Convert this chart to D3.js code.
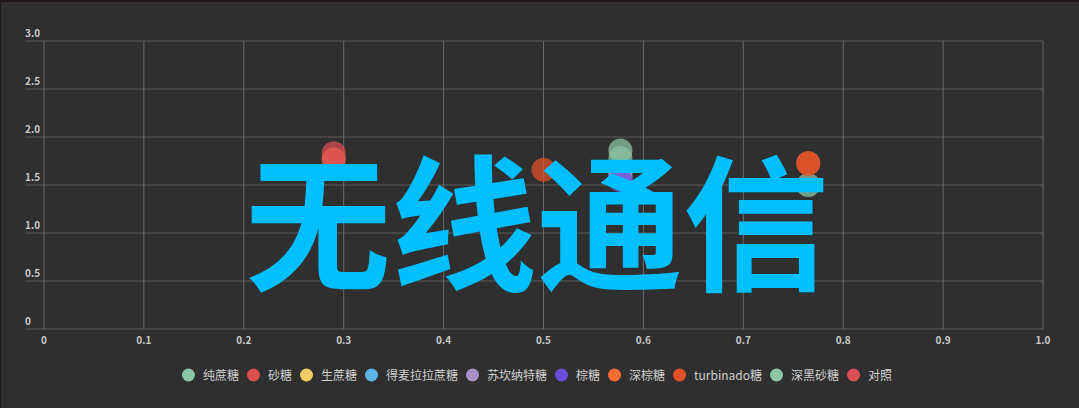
<!DOCTYPE html>
<html>
<head>
<meta charset="utf-8">
<script src="https://cdn.jsdelivr.net/npm/d3@7"></script>
<style>
  html, body { margin: 0; padding: 0; background: #2f2f2f; }
  #chart { width: 1078px; height: 406px; border-top: 2px solid #1f1515; border-left: 1px solid #1f1515; }
  text { font-family: "Noto Sans CJK SC", "Noto Sans", sans-serif; }
</style>
</head>
<body>
<div id="chart"></div>
<script>
// series names and colours (legend order)
var seriesNames = ["纯蔗糖", "砂糖", "生蔗糖", "得麦拉拉蔗糖", "苏坎纳特糖", "棕糖", "深棕糖", "turbinado糖", "深黑砂糖", "对照"];
var seriesColors = ["#8cc7a5", "#d95050", "#f2cd67", "#5bb5e6", "#a890c8", "#6b4fdb", "#ff6b35", "#e34f26", "#8dc6a6", "#d95157"];

// points per series: [x, y]
var pts_chunzhetang = [[0.577, 1.78], [0.765, 1.50]];
var pts_shatang = [[0.29, 1.83]];
var pts_shengzhetang = [[0.577, 1.64]];
var pts_demelara = [[0.577, 1.60]];
var pts_sucanat = [[0.577, 1.58]];
var pts_zongtang = [[0.577, 1.55]];
var pts_shenzongtang = [[0.29, 1.76], [0.765, 1.73]];
var pts_turbinado = [[0.50, 1.66], [0.765, 1.72]];
var pts_shenheishatang = [[0.577, 1.86]];
var pts_duizhao = [[0.29, 1.77]];

var seriesPoints = [pts_chunzhetang, pts_shatang, pts_shengzhetang, pts_demelara, pts_sucanat,
                    pts_zongtang, pts_shenzongtang, pts_turbinado, pts_shenheishatang, pts_duizhao];

var xTicks = [0, 0.1, 0.2, 0.3, 0.4, 0.5, 0.6, 0.7, 0.8, 0.9, 1.0];
var yTicks = [0, 0.5, 1.0, 1.5, 2.0, 2.5, 3.0];
var watermark = "无线通信";

var width = 1078, height = 406;

var svg = d3.select("#chart").append("svg")
    .attr("width", width)
    .attr("height", height);

var x = d3.scaleLinear().domain([0, 1]).range([43, 1042]);
var y = d3.scaleLinear().domain([0, 3]).range([327, 39]);

// horizontal grid + y labels
svg.append("g").selectAll("line")
    .data(yTicks).join("line")
    .attr("x1", 24).attr("x2", 1042)
    .attr("y1", d => y(d)).attr("y2", d => y(d))
    .attr("stroke", "#5c5c5c").attr("stroke-width", 1.2);

svg.append("g").selectAll("text")
    .data(yTicks).join("text")
    .attr("x", 24).attr("y", d => y(d) - 4)
    .attr("fill", "#c8c8c8")
    .attr("font-size", 10).attr("font-weight", "bold")
    .text(d => d === 0 ? "0" : d3.format(".1f")(d));

// vertical grid + x labels
svg.append("g").selectAll("line")
    .data(xTicks).join("line")
    .attr("x1", d => x(d)).attr("x2", d => x(d))
    .attr("y1", y(3)).attr("y2", y(0))
    .attr("stroke", "#7a7a7a").attr("stroke-width", 0.8);

svg.append("g").selectAll("text")
    .data(xTicks).join("text")
    .attr("x", d => x(d)).attr("y", y(0) + 15)
    .attr("text-anchor", "middle")
    .attr("fill", "#c8c8c8")
    .attr("font-size", 10).attr("font-weight", "bold")
    .text(d => d === 0 ? "0" : d3.format(".1f")(d));

// scatter points
seriesPoints.forEach(function(pts, i) {
    svg.append("g").selectAll("circle")
        .data(pts).join("circle")
        .attr("cx", d => x(d[0]))
        .attr("cy", d => y(d[1]))
        .attr("r", 12)
        .attr("fill", seriesColors[i])
        .attr("fill-opacity", 0.73);
});

// legend, centred
var legend = svg.append("g");
var lx = 0;
seriesNames.forEach(function(name, i) {
    var item = legend.append("g").attr("transform", "translate(" + lx + ",0)");
    item.append("circle").attr("cx", 6.5).attr("cy", 0).attr("r", 6.5).attr("fill", seriesColors[i]);
    var t = item.append("text").attr("x", 21).attr("y", 4.5)
        .attr("fill", "#d0d0d0").attr("font-size", 12).text(name);
    lx += 21 + t.node().getComputedTextLength() + 8;
});
var legendW = lx - 8;
legend.attr("transform", "translate(" + (536 - legendW / 2) + ",373)");

// watermark
svg.append("text")
    .attr("x", 536).attr("y", 277)
    .attr("text-anchor", "middle")
    .attr("fill", "#00bfff")
    .attr("font-size", 146)
    .attr("font-weight", "bold")
    .text(watermark);
</script>
</body>
</html>
